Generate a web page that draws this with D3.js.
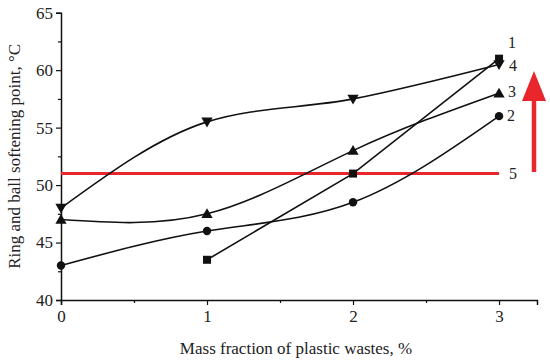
<!DOCTYPE html>
<html>
<head>
<meta charset="utf-8">
<script src="https://cdn.jsdelivr.net/npm/d3@7"></script>
<style>
  body { margin: 0; background: #fff; }
  text { font-family: "Liberation Serif", "Times New Roman", serif; fill: #222; }
</style>
</head>
<body>
<svg id="chart" width="550" height="364"></svg>
<script>
  // data
  const xTicks = [0, 1, 2, 3];
  const yTicks = [40, 45, 50, 55, 60, 65];
  const series1 = [[1, 43.5], [2, 51], [3, 61]];           // squares
  const series2 = [[0, 43], [1, 46], [2, 48.5], [3, 56]];   // circles
  const series3 = [[0, 47], [1, 47.5], [2, 53], [3, 58]];   // up triangles
  const series4 = [[0, 48], [1, 55.5], [2, 57.5], [3, 60.5]]; // down triangles
  const limitLine = [[0, 51], [3, 51]];                      // line 5

  const svg = d3.select("#chart");
  const x = d3.scaleLinear().domain([0, 3.26]).range([61, 537]);
  const y = d3.scaleLinear().domain([40, 65]).range([300, 12.7]);

  // axes
  const gx = svg.append("g").attr("transform", `translate(0,${y(40)})`);
  gx.call(d3.axisBottom(x).tickValues(xTicks).tickSize(5).tickPadding(5).tickFormat(d3.format("d")));
  gx.append("g").call(d3.axisBottom(x).tickValues([0.5, 1.5, 2.5]).tickSize(3).tickFormat(""));
  const gy = svg.append("g").attr("transform", `translate(${x(0)},0)`);
  gy.call(d3.axisLeft(y).tickValues(yTicks).tickSize(5).tickPadding(3));
  gy.append("g").call(d3.axisLeft(y).tickValues([42.5, 47.5, 52.5, 57.5, 62.5]).tickSize(3).tickFormat(""));
  svg.selectAll(".domain").attr("stroke", "#111").attr("stroke-width", 1.5);
  svg.selectAll(".tick line").attr("stroke", "#111").attr("stroke-width", 1.2);
  svg.selectAll(".tick text").style("font-size", "17px").style("font-family", "Liberation Serif, serif").attr("fill", "#222");
  svg.selectAll("g > g > .domain").remove();

  // axis titles
  svg.append("text")
    .attr("x", 296).attr("y", 354)
    .attr("text-anchor", "middle")
    .style("font-size", "17px")
    .text("Mass fraction of plastic wastes, %");
  svg.append("text")
    .attr("transform", `translate(20,${(y(40) + y(65)) / 2}) rotate(-90)`)
    .attr("text-anchor", "middle")
    .style("font-size", "17px")
    .text("Ring and ball softening point, °C");

  // red reference line 5
  svg.append("path")
    .datum(limitLine)
    .attr("fill", "none").attr("stroke", "#e8262b").attr("stroke-width", 3)
    .attr("d", d3.line().x(d => x(d[0])).y(d => y(d[1])));

  const curve = d3.line().x(d => x(d[0])).y(d => y(d[1])).curve(d3.curveMonotoneX);
  const curveN = d3.line().x(d => x(d[0])).y(d => y(d[1])).curve(d3.curveNatural);
  svg.append("path").datum(series1)
    .attr("fill", "none").attr("stroke", "#111").attr("stroke-width", 1.6)
    .attr("d", d3.line().x(d => x(d[0])).y(d => y(d[1])));
  [series2, series3].forEach(s => {
    svg.append("path")
      .datum(s)
      .attr("fill", "none").attr("stroke", "#111").attr("stroke-width", 1.6)
      .attr("d", curveN);
  });
  svg.append("path").datum(series4)
    .attr("fill", "none").attr("stroke", "#111").attr("stroke-width", 1.6)
    .attr("d", curve);

  // markers
  svg.selectAll(".sq").data(series1).enter().append("rect")
    .attr("x", d => x(d[0]) - 4).attr("y", d => y(d[1]) - 4)
    .attr("width", 8).attr("height", 8).attr("fill", "#111");
  svg.selectAll(".ci").data(series2).enter().append("circle")
    .attr("cx", d => x(d[0])).attr("cy", d => y(d[1])).attr("r", 4.2).attr("fill", "#111");
  const tri = d3.symbol().type(d3.symbolTriangle).size(55);
  svg.selectAll(".up").data(series3).enter().append("path")
    .attr("d", tri)
    .attr("transform", d => `translate(${x(d[0])},${y(d[1]) + 1})`).attr("fill", "#111");
  svg.selectAll(".dn").data(series4).enter().append("path")
    .attr("d", tri)
    .attr("transform", d => `translate(${x(d[0])},${y(d[1]) - 1}) rotate(180)`).attr("fill", "#111");

  // curve labels
  const labels = [
    { t: "1", v: series1[2][1], dx: 9, dy: -16 },
    { t: "4", v: series4[3][1], dx: 10, dy: 2 },
    { t: "3", v: series3[3][1], dx: 9, dy: -1 },
    { t: "2", v: series2[3][1], dx: 8, dy: 0 },
    { t: "5", v: limitLine[1][1], dx: 10, dy: 0 }
  ];
  svg.selectAll(".lbl").data(labels).enter().append("text")
    .attr("x", d => x(3) + d.dx).attr("y", d => y(d.v) + d.dy + 5)
    .style("font-size", "16px")
    .text(d => d.t);

  // red arrow
  svg.append("line")
    .attr("x1", 534).attr("x2", 534).attr("y1", 172).attr("y2", 98)
    .attr("stroke", "#e8262b").attr("stroke-width", 4.5);
  svg.append("path")
    .attr("d", "M534,71 L522,101 L546,101 Z")
    .attr("fill", "#e8262b");
</script>
</body>
</html>
